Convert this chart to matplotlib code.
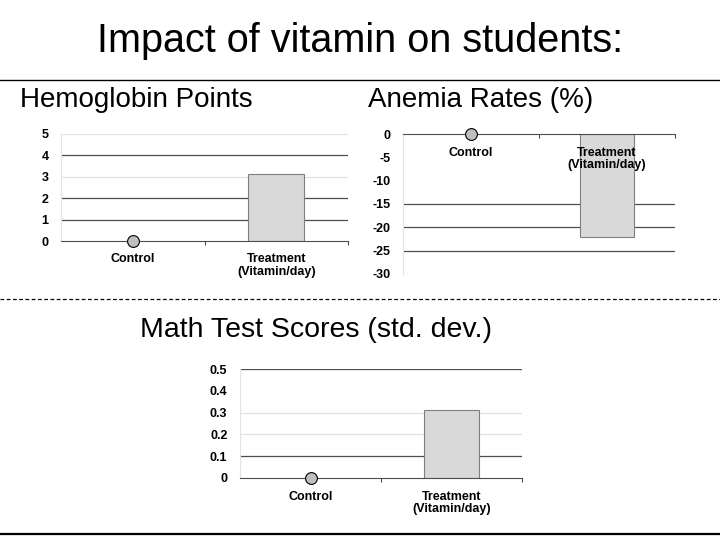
import matplotlib
matplotlib.use("Agg")
import matplotlib.pyplot as plt
from matplotlib.lines import Line2D

# data
categories = ["Control", "Treatment\n(Vitamin/day)"]
hemoglobin = [0, 3.13]
anemia = [0, -22.0]
math_scores = [0, 0.31]

hemo_ticks = [0, 1, 2, 3, 4, 5]
anemia_ticks = [0, -5, -10, -15, -20, -25, -30]
math_ticks = [0, 0.1, 0.2, 0.3, 0.4, 0.5]
math_labels = ["0", "0.1", "0.2", "0.3", "0.4", "0.5"]

narrow = ["Liberation Sans Narrow", "Liberation Sans", "DejaVu Sans"]
plt.rcParams["font.family"] = ["Liberation Sans", "DejaVu Sans"]

fig = plt.figure(figsize=(7.2, 5.4), dpi=100)

fig.text(0.5, 0.925, "Impact of vitamin on students:", ha="center", va="center",
         fontsize=28.5, family=narrow)
fig.add_artist(Line2D([0, 1], [1 - 80 / 540, 1 - 80 / 540], color="black", lw=1))
fig.add_artist(Line2D([0, 1], [1 - 299 / 540, 1 - 299 / 540], color="black", lw=0.9,
                      ls=(0, (3, 2))))
fig.add_artist(Line2D([0, 1], [1 - 534 / 540, 1 - 534 / 540], color="black", lw=1.6))

fig.text(20 / 720, 1 - 100 / 540, "Hemoglobin Points", ha="left", va="center",
         fontsize=20, family=narrow)
fig.text(368 / 720, 1 - 100 / 540, "Anemia Rates (%)", ha="left", va="center",
         fontsize=20, family=narrow)
fig.text(140 / 720, 1 - 330 / 540, "Math Test Scores (std. dev.)", ha="left", va="center",
         fontsize=20.5, family=narrow)


def panel(rect, values, ticks, labels, ylim, dark, light):
    ax = fig.add_axes(rect)
    x = range(len(categories))
    ax.bar(x[1], values[1], width=0.39, color="#d9d9d9", edgecolor="#7f7f7f", lw=0.8, zorder=2)
    ax.plot(x[0], values[0], "o", ms=8.5, mfc="#bfbfbf", mec="black", mew=0.8,
            clip_on=False, zorder=5)
    for t in dark:
        ax.axhline(t, color="#4d4d4d", lw=0.9, zorder=1)
    for t in light:
        ax.axhline(t, color="#e3e3e3", lw=0.9, zorder=1)
    ax.set_xlim(-0.5, 1.5)
    ax.set_ylim(*ylim)
    ax.set_yticks(ticks)
    ax.set_yticklabels(labels, fontsize=9, fontweight="bold")
    ax.tick_params(axis="y", length=0, pad=9)
    ax.set_xticks([0.5, 1.5])
    ax.set_xticklabels([])
    ax.tick_params(axis="x", direction="out", length=3, color="#4d4d4d")
    for i, c in enumerate(categories):
        ax.annotate(c, xy=(i, 0), xycoords="data", xytext=(0, -9),
                    textcoords="offset points", ha="center", va="top",
                    fontsize=9, fontweight="bold", linespacing=1.1, zorder=4)
    ax.spines["top"].set_visible(False)
    ax.spines["right"].set_visible(False)
    ax.spines["left"].set_color("#e3e3e3")
    ax.spines["bottom"].set_color("#4d4d4d")
    ax.spines["bottom"].set_position(("data", 0))
    return ax


panel([61 / 720, 1 - 241 / 540, 287 / 720, 107 / 540], hemoglobin, hemo_ticks,
      [str(t) for t in hemo_ticks], (0, 5), [1, 2, 4], [3, 5])
panel([403 / 720, 1 - 274 / 540, 272 / 720, 140 / 540], anemia, anemia_ticks,
      [str(t) for t in anemia_ticks], (-30, 0), [-15, -20, -25], [-30])
panel([240 / 720, 1 - 478 / 540, 282 / 720, 109 / 540], math_scores, math_ticks,
      math_labels, (0, 0.5), [0.1, 0.5], [0.2, 0.3])

fig.savefig("out.png", dpi=100)
